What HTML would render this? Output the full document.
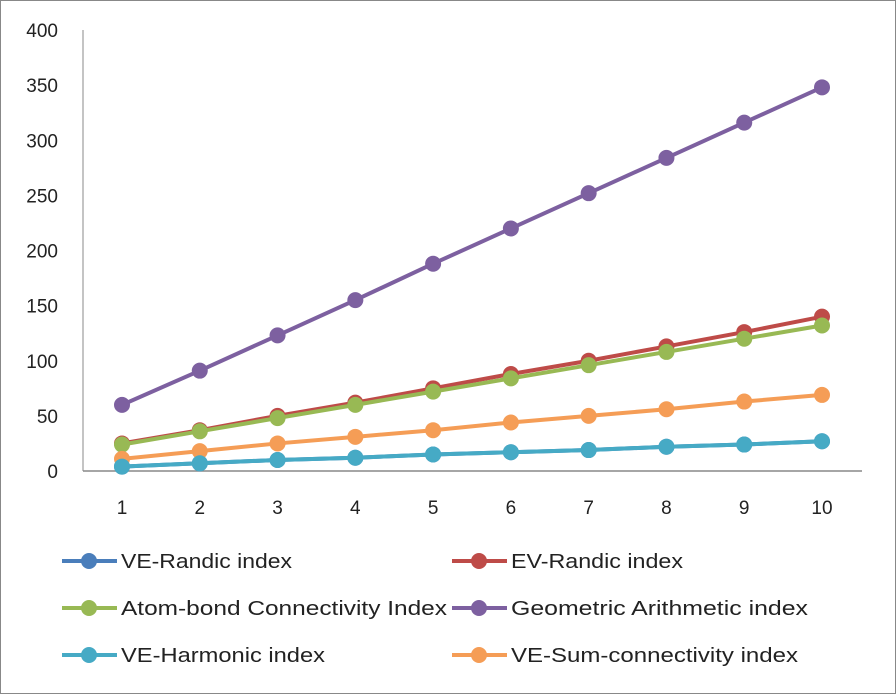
<!DOCTYPE html>
<html><head><meta charset="utf-8"><style>
body{margin:0;background:#fff;}
svg text{font-family:"Liberation Sans",sans-serif;fill:#222;}
</style></head><body>
<svg id="c" width="896" height="694">
<rect x="0.5" y="0.5" width="895" height="693" fill="#fff" stroke="#888"/>
<g id="axes"></g><g id="series"></g><g id="legend"></g>
</svg>
<script>
const categories=[1,2,3,4,5,6,7,8,9,10];
const yTicks=[0,50,100,150,200,250,300,350,400];
const seriesNames=["VE-Randic index","EV-Randic index","Atom-bond Connectivity Index","Geometric Arithmetic index","VE-Harmonic index","VE-Sum-connectivity index"];
const veRandic=[4,7,10,12,15,17,19,22,24,27];
const evRandic=[25,37,50,62,75,88,100,113,126,140];
const abc=[24,36,48,60,72,84,96,108,120,132];
const ga=[60,91,123,155,188,220,252,284,316,348];
const veHarmonic=[4,7,10,12,15,17,19,22,24,27];
const veSum=[11,18,25,31,37,44,50,56,63,69];
const seriesData=[veRandic,evRandic,abc,ga,veHarmonic,veSum];
const colors=["#4a7ebb","#be4b48","#98b954","#7d60a0","#46aac5","#f59d56"];
const legendTextWidths=[171,172,326,297,204,287];
const drawOrder=[0,1,2,3,5,4];
const NS="http://www.w3.org/2000/svg";
function mk(t,a,p){const e=document.createElementNS(NS,t);for(const k in a)e.setAttribute(k,a[k]);p.appendChild(e);return e;}
const x=v=>122+(v-1)*(822-122)/9;
const y=v=>471-v*(441/400);
const ax=document.getElementById('axes');
const vax=mk('line',{x1:83,y1:30,x2:83,y2:471,stroke:'#888','stroke-width':1},ax);


const hax=mk('line',{x1:83,y1:471,x2:862,y2:471,stroke:'#888','stroke-width':1.5},ax);


yTicks.forEach(t=>{const e=mk('text',{x:58,y:y(t)+7,'font-size':19,'text-anchor':'end'},ax);e.textContent=t;

});
categories.forEach(c=>{const e=mk('text',{x:x(c),y:514,'font-size':19,'text-anchor':'middle'},ax);e.textContent=c;

});
const sg=document.getElementById('series');
drawOrder.forEach(i=>{const d=seriesData[i];const g=mk('g',{},sg);


mk('polyline',{points:d.map((v,j)=>x(categories[j])+','+y(v)).join(' '),fill:'none',stroke:colors[i],'stroke-width':4},g);
d.forEach((v,j)=>{const p=mk('circle',{cx:x(categories[j]),cy:y(v),r:8,fill:colors[i]},g);

});});
const lg=document.getElementById('legend');
seriesNames.forEach((n,i)=>{const col=i%2,row=Math.floor(i/2);const lx=col?452:62,ly=561+row*47;
const g=mk('g',{},lg);


mk('line',{x1:lx,y1:ly,x2:lx+55,y2:ly,stroke:colors[i],'stroke-width':4},g);
mk('circle',{cx:lx+27,cy:ly,r:8,fill:colors[i]},g);
const t=mk('text',{x:lx+59,y:ly+7,'font-size':20,textLength:legendTextWidths[i],lengthAdjust:'spacingAndGlyphs'},g);t.textContent=n;});
</script>
</body></html>
